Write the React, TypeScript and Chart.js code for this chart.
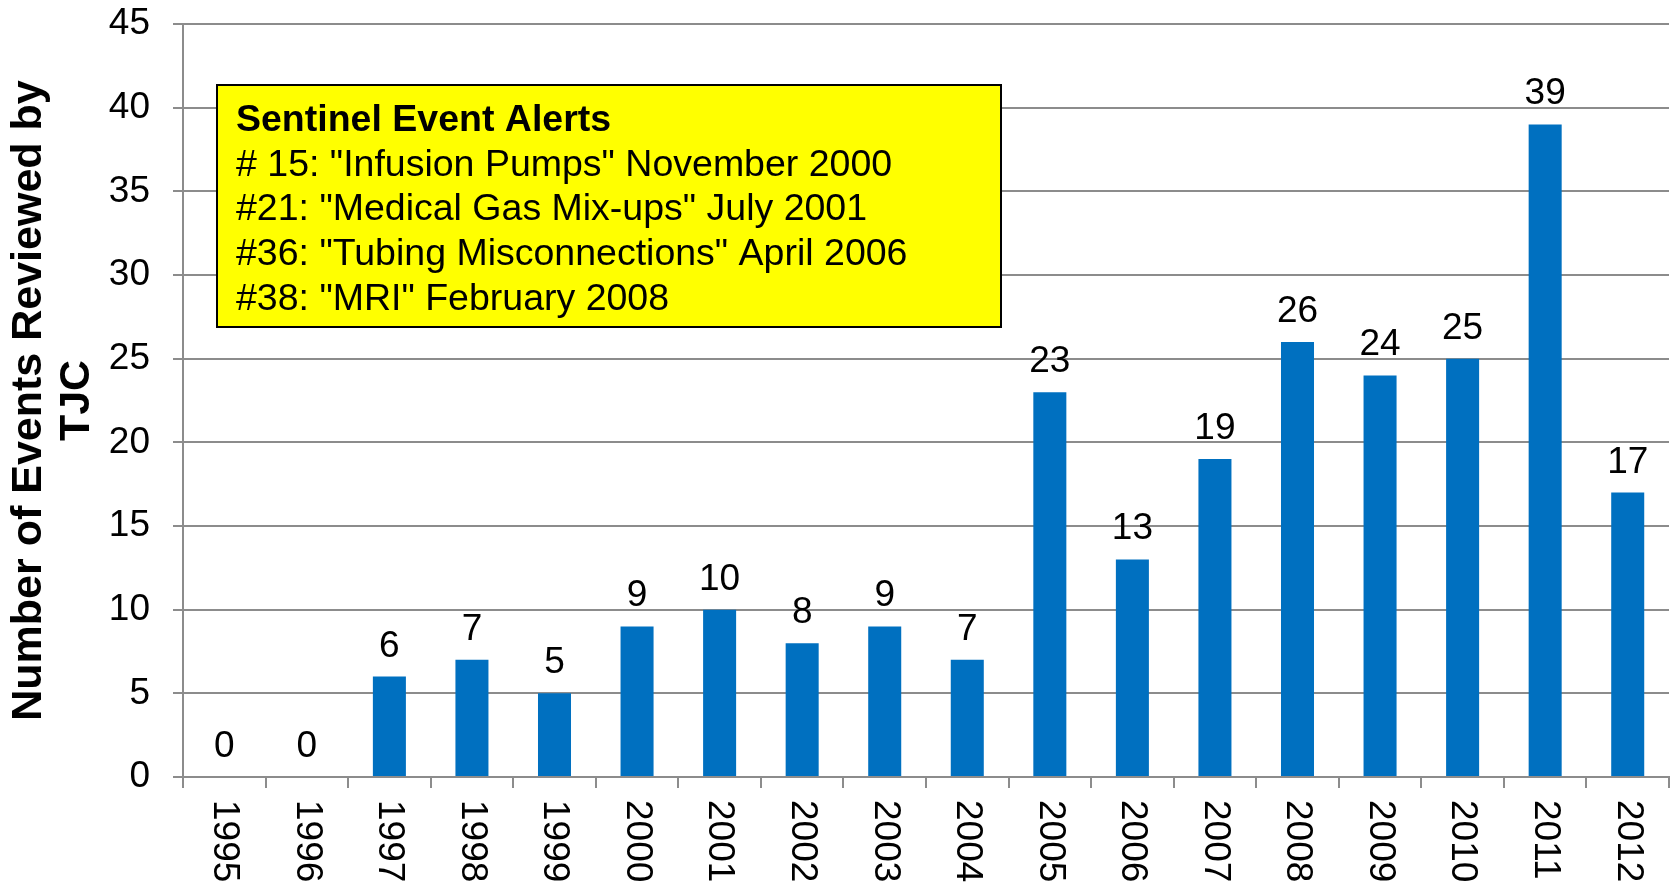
import React, { useEffect, useRef } from 'react';
import { Chart, registerables } from 'chart.js';

Chart.register(...registerables);

const years = ['1995', '1996', '1997', '1998', '1999', '2000', '2001', '2002', '2003', '2004', '2005', '2006', '2007', '2008', '2009', '2010', '2011', '2012'];
const events = [0, 0, 6, 7, 5, 9, 10, 8, 9, 7, 23, 13, 19, 26, 24, 25, 39, 17];
const yMax = 45;
const yStep = 5;
const axisTitleLines = ['Number of Events Reviewed by', 'TJC'];
const alertTitle = 'Sentinel Event Alerts';
const alertLines = [
  '# 15: "Infusion Pumps" November 2000',
  '#21: "Medical Gas Mix-ups" July 2001',
  '#36: "Tubing Misconnections" April 2006',
  '#38: "MRI" February 2008',
];

const FONT = '"Liberation Sans", Arial, Helvetica, sans-serif';
const GRID = '#8c8c8c';
const BAR = '#0070C0';

const valueLabelPlugin = {
  id: 'valueLabels',
  afterDatasetsDraw(chart: any) {
    const { ctx } = chart;
    const meta = chart.getDatasetMeta(0);
    ctx.save();
    ctx.font = `37px ${FONT}`;
    ctx.fillStyle = '#000';
    ctx.textAlign = 'center';
    ctx.textBaseline = 'alphabetic';
    meta.data.forEach((bar: any, i: number) => {
      ctx.fillText(String(events[i]), bar.x, bar.y - 20);
    });
    ctx.restore();
  },
};

const xLabelPlugin = {
  id: 'xLabels',
  afterDraw(chart: any) {
    const { ctx, chartArea } = chart;
    const xs = chart.scales.x;
    ctx.save();
    ctx.font = `37px ${FONT}`;
    ctx.fillStyle = '#000';
    ctx.textAlign = 'left';
    ctx.textBaseline = 'middle';
    years.forEach((label, i) => {
      const x = xs.getPixelForValue(i);
      ctx.save();
      ctx.translate(x, chartArea.bottom + 23);
      ctx.rotate(Math.PI / 2);
      ctx.fillText(label, 0, 0);
      ctx.restore();
    });
    ctx.restore();
  },
};

const alertBoxPlugin = {
  id: 'alertBox',
  afterDraw(chart: any) {
    const { ctx } = chart;
    const left = 217;
    const top = 85;
    const right = 1001;
    const bottom = 327;
    ctx.save();
    ctx.fillStyle = '#FFFF00';
    ctx.fillRect(left, top, right - left, bottom - top);
    ctx.strokeStyle = '#000';
    ctx.lineWidth = 2;
    ctx.strokeRect(left, top, right - left, bottom - top);
    ctx.fillStyle = '#000';
    ctx.textAlign = 'left';
    ctx.textBaseline = 'alphabetic';
    const tx = 236;
    let ty = 131;
    ctx.font = `bold 37.5px ${FONT}`;
    ctx.fillText(alertTitle, tx, ty);
    ctx.font = `37.5px ${FONT}`;
    alertLines.forEach((line) => {
      ty += 44.7;
      ctx.fillText(line, tx, ty);
    });
    ctx.restore();
  },
};

export default function App() {
  const canvasRef = useRef<HTMLCanvasElement | null>(null);

  useEffect(() => {
    document.body.style.margin = '0';
    document.body.style.overflow = 'hidden';
    const canvas = canvasRef.current;
    if (!canvas) return;
    const chart = new Chart(canvas, {
      type: 'bar',
      data: {
        labels: years,
        datasets: [
          {
            data: events,
            backgroundColor: BAR,
            borderWidth: 0,
            barPercentage: 0.4,
            categoryPercentage: 1,
          },
        ],
      },
      options: {
        responsive: false,
        animation: false,
        devicePixelRatio: 1,
        layout: { padding: { top: 24, right: 5, left: 0, bottom: 0 } },
        plugins: {
          legend: { display: false },
          tooltip: { enabled: false },
          title: { display: false },
        },
        scales: {
          x: {
            offset: true,
            afterFit: (s: any) => {
              s.height = 109;
              s.paddingLeft = 0;
              s.paddingRight = 0;
            },
            grid: {
              offset: true,
              drawOnChartArea: false,
              drawTicks: true,
              tickLength: 11,
              color: GRID,
              lineWidth: 2,
            },
            border: { display: true, color: GRID, width: 2 },
            ticks: { display: false },
          },
          y: {
            min: 0,
            max: yMax,
            afterFit: (s: any) => {
              s.width = 183;
              s.paddingTop = 0;
              s.paddingBottom = 0;
            },
            ticks: {
              stepSize: yStep,
              color: '#000',
              padding: 23,
              font: { family: FONT, size: 37 },
            },
            grid: {
              color: GRID,
              lineWidth: 2,
              tickLength: 10,
              drawTicks: true,
            },
            border: { display: true, color: GRID, width: 2 },
            title: {
              display: true,
              text: axisTitleLines,
              color: '#000',
              font: { family: FONT, size: 43, weight: 'bold', lineHeight: 1.12 },
              padding: { top: 5, bottom: 0 },
            },
          },
        },
      },
      plugins: [valueLabelPlugin, alertBoxPlugin, xLabelPlugin],
    } as any);
    return () => {
      chart.destroy();
    };
  }, []);

  return (
    <div style={{ width: 1674, height: 886 }}>
      <canvas ref={canvasRef} width={1674} height={886} style={{ display: 'block' }} />
    </div>
  );
}
